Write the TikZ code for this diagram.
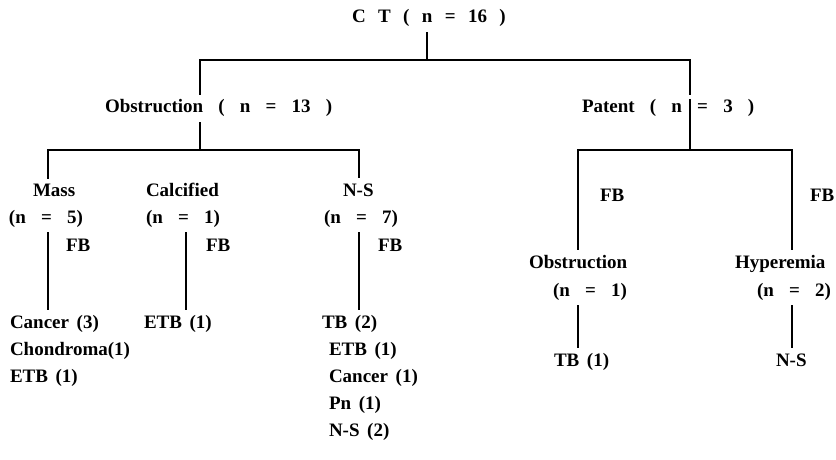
\documentclass[tikz,border=0pt]{standalone}
\usepackage{fontspec}
\setmainfont{Liberation Serif}
\begin{document}
\begin{tikzpicture}[x=1pt,y=-1pt,
  txt/.style={anchor=base west,inner sep=0pt,outer xsep=0pt,outer ysep=5pt,
    font=\fontsize{19}{22}\selectfont\bfseries,
    execute at begin node={\spaceskip=15.2pt\relax}},
  ttl/.style={txt,execute at begin node={\spaceskip=12.4pt\relax}},
  lst/.style={txt,execute at begin node={\spaceskip=7.6pt\relax}},
  ln/.style={line width=1.7pt}]
\useasboundingbox (0,0) rectangle (836,460);
% title and first level
\node[ttl] (ct) at (352,23) {C T ( n = 16 )};
\node[txt] (obs) at (105,113) {Obstruction ( n = 13 )};
\node[txt] (pat) at (582,113) {Patent ( n = 3 )};
% second level left
\node[txt] (mass) at (33,196) {Mass};
\node[txt] (calc) at (146,196) {Calcified};
\node[txt] (ns) at (343,196) {N-S};
\node[txt] (n5) at (9,223) {(n = 5)};
\node[txt] (n1) at (146,223) {(n = 1)};
\node[txt] (n7) at (324,223) {(n = 7)};
\node[txt] (fb1) at (66,251) {FB};
\node[txt] (fb2) at (206,251) {FB};
\node[txt] (fb3) at (378,251) {FB};
% lists left
\node[lst] (can3) at (10,328) {Cancer (3)};
\node[lst] (chon) at (10,355) {Chondroma(1)};
\node[lst] (etb1) at (10,382) {ETB (1)};
\node[lst] (etb2) at (144,328) {ETB (1)};
\node[lst] (tb2) at (322,328) {TB (2)};
\node[lst] (etb3) at (329,355) {ETB (1)};
\node[lst] (can1) at (329,382) {Cancer (1)};
\node[lst] (pn) at (329,409) {Pn (1)};
\node[lst] (ns2) at (329,436) {N-S (2)};
% right side
\node[txt] (fbR1) at (600,201) {FB};
\node[txt] (fbR2) at (810,201) {FB};
\node[txt] (obR) at (529,268) {Obstruction};
\node[txt] (n1R) at (553,296) {(n = 1)};
\node[lst] (tb1) at (554,366) {TB (1)};
\node[txt] (hyp) at (735,268) {Hyperemia};
\node[txt] (n2) at (757,296) {(n = 2)};
\node[txt] (nsR) at (776,366) {N-S};
% junction coordinates
\coordinate (jc) at (427,60);
\coordinate (jl) at (200,60);
\coordinate (jr) at (690,60);
\coordinate (ol) at (200,150);
\coordinate (ml) at (48,150);
\coordinate (cx) at (186,150);
\coordinate (sl) at (359,150);
\coordinate (pr) at (690,150);
\coordinate (rl) at (578,150);
\coordinate (rr) at (792,150);
% connectors
\draw[ln] (jc |- ct.south) -- (jc);
\draw[ln] (jl |- obs.north) -- (jl) -- (jr) -- (jr |- pat.north);
\draw[ln] ([yshift=-4pt]pat.north -| pr) -- (pr);
\draw[ln] (ol |- obs.south) -- (ol);
\draw[ln] (ml |- mass.north) -- (ml) -- (sl) -- (sl |- ns.north);
\draw[ln] (ml |- n5.south) -- (ml |- can3.north);
\draw[ln] (cx |- n1.south) -- (cx |- etb2.north);
\draw[ln] (sl |- n7.south) -- (sl |- tb2.north);
\draw[ln] (rl |- obR.north) -- (rl) -- (rr) -- (rr |- hyp.north);
\draw[ln] (rl |- n1R.south) -- (rl |- tb1.north);
\draw[ln] (rr |- n2.south) -- (rr |- nsR.north);
\end{tikzpicture}
\end{document}
